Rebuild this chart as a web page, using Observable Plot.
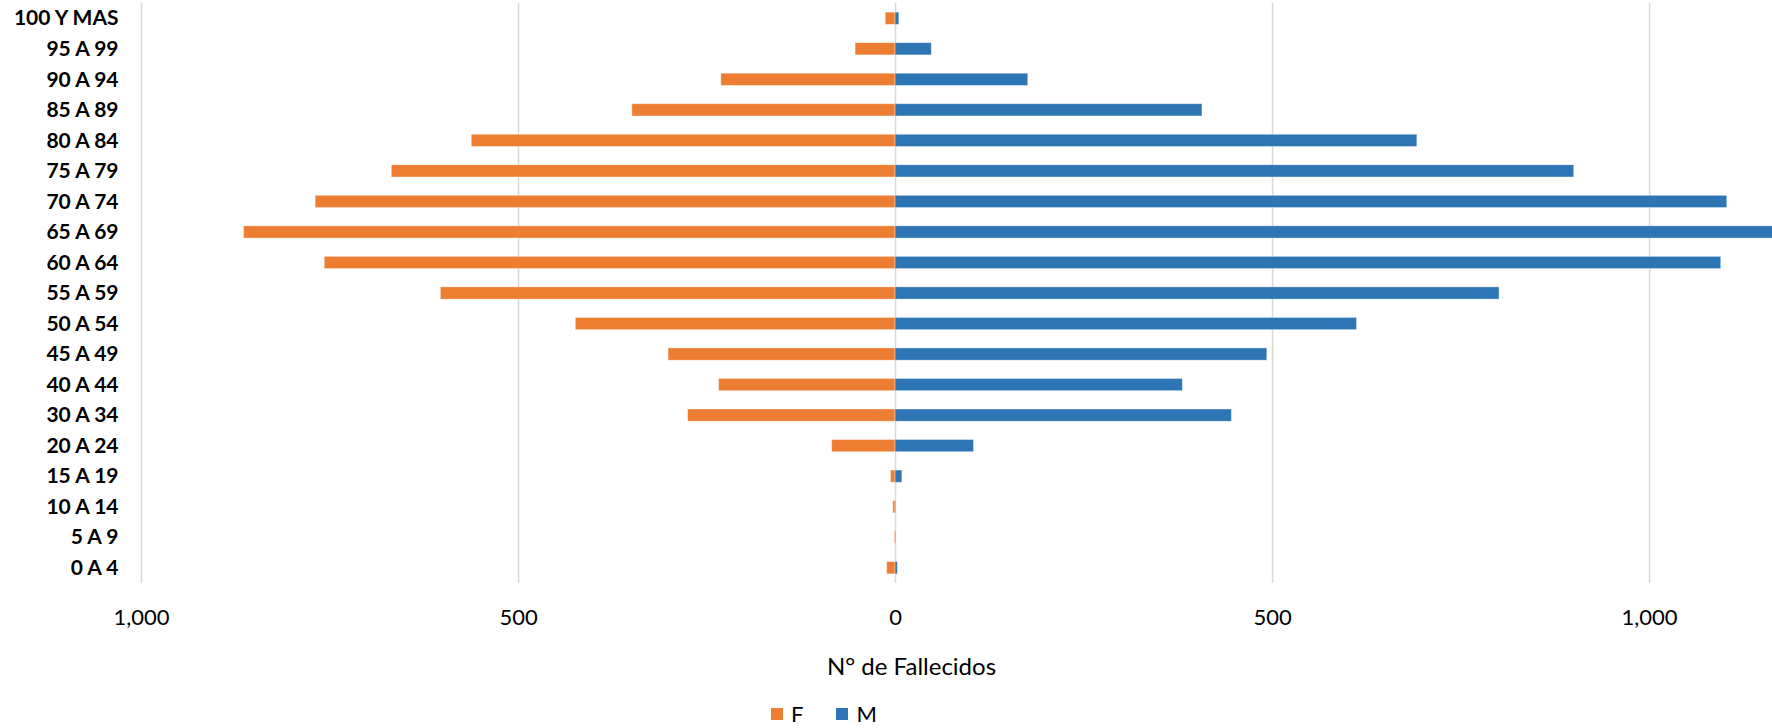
<!DOCTYPE html>
<html>
<head>
<meta charset="utf-8">
<script src="https://cdn.jsdelivr.net/npm/d3@7"></script>
<script src="https://cdn.jsdelivr.net/npm/@observablehq/plot@0.6"></script>
<style>
  html, body { margin: 0; padding: 0; background: #fff; }
  body { width: 1772px; height: 728px; position: relative; overflow: hidden; font-family: Lato, "Open Sans", sans-serif; }
  #chart { position: absolute; left: 0; top: 0; }
  #chart [aria-label="y-axis tick label"] text { font-weight: bold; }
  .xtitle { position: absolute; top: 652px; left: 0; width: 1823px; text-align: center; font-size: 24px; line-height: 1.2; color: #000; }
  .legend { position: absolute; top: 703px; left: 771px; display: flex; align-items: center; font-size: 22px; line-height: 1; color: #000; }
  .legend .sw { width: 12px; height: 12px; display: inline-block; margin-right: 8px; }
  .legend .item { display: flex; align-items: center; margin-right: 33px; }
</style>
</head>
<body>
<div id="chart"></div>
<div class="xtitle">N° de Fallecidos</div>
<div class="legend" id="legend"></div>
<script>
const ageGroups = ["100 Y MAS","95 A 99","90 A 94","85 A 89","80 A 84","75 A 79","70 A 74","65 A 69","60 A 64","55 A 59","50 A 54","45 A 49","40 A 44","30 A 34","20 A 24","15 A 19","10 A 14","5 A 9","0 A 4"];
const femaleDeaths = [13, 53, 231, 349, 562, 668, 769, 864, 757, 603, 424, 301, 234, 275, 84, 6, 3, 1, 11];
const maleDeaths   = [5, 48, 176, 407, 692, 900, 1103, 1170, 1095, 801, 612, 493, 381, 446, 104, 9, 1, 1, 3];
const sexes = ["F", "M"];
const sexColors = ["#ED7D31", "#2E75B6"];
const xTicks = [-1000, -500, 0, 500, 1000];

const rows = [];
ageGroups.forEach((g, i) => {
  rows.push({age: g, sex: "F", value: -femaleDeaths[i]});
  rows.push({age: g, sex: "M", value: maleDeaths[i]});
});

const fmt = d3.format(",");
const chart = Plot.plot({
  width: 1772,
  height: 640,
  marginLeft: 141,
  marginRight: 0,
  marginTop: 3,
  marginBottom: 57,
  style: { fontFamily: "Lato, 'Open Sans', sans-serif", color: "#000", background: "#fff", overflow: "hidden" },
  x: { domain: [-1000, 1163] },
  y: { domain: ageGroups, paddingInner: 0.6, paddingOuter: 0.3, round: false },
  color: { domain: sexes, range: sexColors },
  marks: [
    Plot.gridX(xTicks, { stroke: "#d9d9d9", strokeOpacity: 1, strokeWidth: 1.5 }),
    Plot.barX(rows, { y: "age", x1: 0, x2: "value", fill: "sex", stroke: "#ffffff", strokeOpacity: 0.45, strokeWidth: 0.8, clip: true }),
    Plot.axisY({ tickSize: 0, tickPadding: 23, fontSize: 21, fontWeight: "bold", label: null }),
    Plot.axisX({ ticks: xTicks, tickFormat: d => fmt(Math.abs(d)), tickSize: 0, tickPadding: 26, fontSize: 22, label: null })
  ]
});
document.getElementById("chart").appendChild(chart);

const legend = document.getElementById("legend");
sexes.forEach((s, i) => {
  const item = document.createElement("div");
  item.className = "item";
  const sw = document.createElement("span");
  sw.className = "sw";
  sw.style.background = sexColors[i];
  const t = document.createElement("span");
  t.textContent = s;
  item.appendChild(sw);
  item.appendChild(t);
  legend.appendChild(item);
});
</script>
</body>
</html>
